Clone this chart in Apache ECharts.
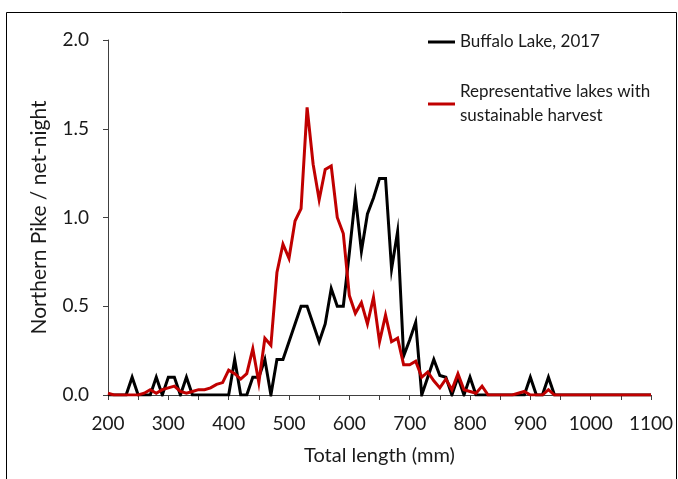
<!DOCTYPE html>
<html>
<head>
<meta charset="utf-8">
<script src="https://cdn.jsdelivr.net/npm/echarts@6/dist/echarts.min.js"></script>
<style>
  html, body { margin: 0; padding: 0; background: #fff; }
  #chart { width: 678px; height: 479px; }
</style>
</head>
<body>
<div id="chart"></div>
<script>
// Total length bins (mm)
const lengths = [200,210,220,230,240,250,260,270,280,290,
                 300,310,320,330,340,350,360,370,380,390,
                 400,410,420,430,440,450,460,470,480,490,
                 500,510,520,530,540,550,560,570,580,590,
                 600,610,620,630,640,650,660,670,680,690,
                 700,710,720,730,740,750,760,770,780,790,
                 800,810,820,830,840,850,860,870,880,890,
                 900,910,920,930,940,950,960,970,980,990,
                 1000,1010,1020,1030,1040,1050,1060,1070,1080,1090,
                 1100];

// Buffalo Lake, 2017 (Northern Pike / net-night)
const buffaloLake = [0,0,0,0,0.1,0,0,0,0.1,0,
                     0.1,0.1,0,0.1,0,0,0,0,0,0,
                     0,0.2,0,0,0.1,0.1,0.2,0,0.2,0.2,
                     0.3,0.4,0.5,0.5,0.4,0.3,0.4,0.6,0.5,0.5,
                     0.8,1.12,0.81,1.02,1.11,1.22,1.22,0.71,0.92,0.22,
                     0.31,0.41,0,0.1,0.2,0.11,0.1,0,0.1,0,
                     0.1,0,0,0,0,0,0,0,0,0,
                     0.1,0,0,0.1,0,0,0,0,0,0,
                     0,0,0,0,0,0,0,0,0,0,
                     0];

// Representative lakes with sustainable harvest
const representative = [0.01,0,0,0,0,0,0.01,0.03,0.01,0.03,
                        0.04,0.05,0.02,0.01,0.02,0.03,0.03,0.04,0.06,0.07,
                        0.14,0.12,0.09,0.12,0.26,0.07,0.32,0.28,0.69,0.85,
                        0.77,0.98,1.05,1.62,1.3,1.1,1.27,1.29,1.0,0.91,
                        0.56,0.46,0.52,0.4,0.55,0.3,0.45,0.3,0.32,0.17,
                        0.17,0.19,0.1,0.13,0.08,0.04,0.09,0.03,0.12,0.03,
                        0.02,0.01,0.05,0,0,0,0,0,0.01,0.02,
                        0,0,0,0.03,0,0,0,0,0,0,
                        0,0,0,0,0,0,0,0,0,0,
                        0];

const seriesNames = ['Buffalo Lake, 2017', 'Representative lakes with sustainable harvest'];
const xTitle = 'Total length (mm)';
const yTitle = 'Northern Pike / net-night';

const FONT = 'Lato';
const TXT = '#1a1a1a';
const AX = '#404040';

const chart = echarts.init(document.getElementById('chart'), null, { renderer: 'canvas' });
chart.setOption({
  animation: false,
  backgroundColor: '#ffffff',
  textStyle: { fontFamily: FONT },
  graphic: [{
    type: 'rect',
    silent: true,
    z: -1,
    shape: { x: 6.5, y: 12.5, width: 670, height: 500 },
    style: { fill: 'none', stroke: '#000', lineWidth: 1 }
  }],
  grid: { left: 108, right: 27, top: 40, bottom: 84, containLabel: false },
  legend: [
    {
      data: [seriesNames[0]],
      left: 428, top: 30, padding: 0,
      orient: 'vertical',
      icon: 'rect', itemWidth: 27, itemHeight: 3,
      selectedMode: false,
      textStyle: { fontFamily: FONT, fontSize: 17, color: TXT, lineHeight: 24 }
    },
    {
      data: [seriesNames[1]],
      left: 428, top: 68, padding: 0,
      orient: 'vertical',
      icon: 'rect', itemWidth: 27, itemHeight: 3,
      selectedMode: false,
      formatter: () => 'Representative lakes with\nsustainable harvest',
      textStyle: { fontFamily: FONT, fontSize: 17, color: TXT, lineHeight: 24, padding: [24, 0, 0, 0] }
    }
  ],
  xAxis: {
    type: 'value',
    min: 200, max: 1100, interval: 100,
    name: xTitle, nameLocation: 'middle', nameGap: 51,
    nameTextStyle: { fontFamily: FONT, fontSize: 20, color: TXT },
    axisLine: { show: true, onZero: false, lineStyle: { color: AX, width: 1 } },
    axisTick: { show: true, inside: false, length: 5, lineStyle: { color: AX } },
    minorTick: { show: true, splitNumber: 2, length: 5, lineStyle: { color: AX } },
    axisLabel: { margin: 19, fontFamily: FONT, fontSize: 19, color: TXT, formatter: v => String(v) },
    splitLine: { show: false }
  },
  yAxis: {
    type: 'value',
    min: 0, max: 2, interval: 0.5,
    name: yTitle, nameLocation: 'middle', nameGap: 58,
    nameTextStyle: { fontFamily: FONT, fontSize: 21, color: TXT },
    axisLine: { show: true, lineStyle: { color: AX, width: 1 } },
    axisTick: { show: true, inside: false, length: 5, lineStyle: { color: AX } },
    axisLabel: { margin: 19, fontFamily: FONT, fontSize: 19, color: TXT, formatter: v => v.toFixed(1) },
    splitLine: { show: false }
  },
  series: [
    {
      name: seriesNames[0], type: 'line', symbol: 'none',
      color: '#000000',
      lineStyle: { color: '#000000', width: 3, join: 'miter' },
      data: lengths.map((x, i) => [x, buffaloLake[i]])
    },
    {
      name: seriesNames[1], type: 'line', symbol: 'none',
      color: '#C00000',
      lineStyle: { color: '#C00000', width: 3, join: 'miter' },
      data: lengths.map((x, i) => [x, representative[i]])
    }
  ]
});
</script>
</body>
</html>
